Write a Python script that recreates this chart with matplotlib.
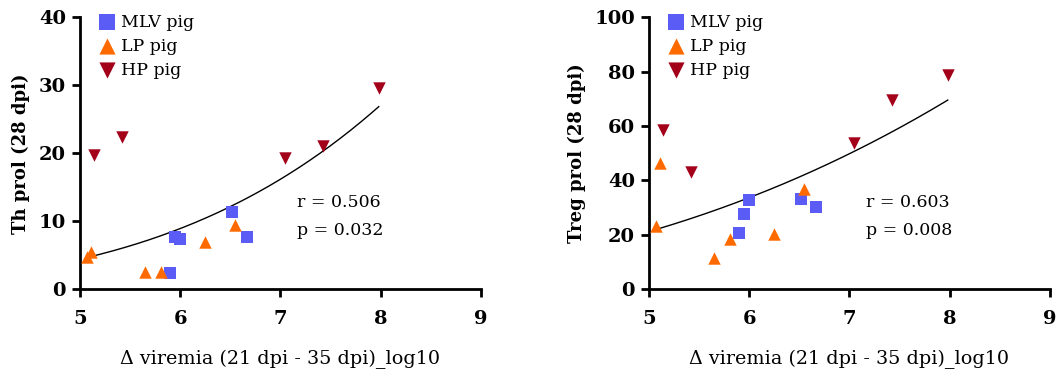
import numpy as np
import matplotlib
matplotlib.use("Agg")
import matplotlib.pyplot as plt

# x values (delta viremia, log10) per group, shared by both panels
mlv_x = [5.90, 5.95, 6.00, 6.52, 6.67]
lp_x = [5.07, 5.11, 5.65, 5.81, 6.25, 6.55]
hp_x = [5.14, 5.42, 7.05, 7.42, 7.98]

# left panel: Th prol
th_mlv = [2.4, 7.7, 7.4, 11.3, 7.6]
th_lp = [4.7, 5.5, 2.5, 2.5, 7.0, 9.5]
th_hp = [19.7, 22.4, 19.3, 21.1, 29.6]

# right panel: Treg prol
treg_mlv = [20.5, 27.6, 32.8, 33.0, 30.3]
treg_lp = [23.3, 46.5, 11.3, 18.6, 20.1, 37.0]
treg_hp = [58.5, 43.2, 53.6, 69.6, 78.8]

plt.rcParams['font.family'] = ['DejaVu Serif']


def power_fit(x, y):
    # y = a * x**k, least squares, grid over k
    best = None
    for k in np.linspace(0.0, 8.0, 8001):
        e = x ** k
        a = (y * e).sum() / (e * e).sum()
        err = ((y - a * e) ** 2).sum()
        if best is None or err < best[0]:
            best = (err, a, k)
    return best[1], best[2]


def panel(ax, ys, ylim, yticks, ylabel, r_txt, p_txt):
    ax.scatter(mlv_x, ys[0], marker='s', s=72, color='#5a5cf5', label='MLV pig', zorder=3, linewidths=0)
    ax.scatter(lp_x, ys[1], marker='^', s=80, color='#ff6a00', label='LP pig', zorder=3, linewidths=0)
    ax.scatter(hp_x, ys[2], marker='v', s=80, color='#a3001a', label='HP pig', zorder=3, linewidths=0)

    allx = np.array(mlv_x + lp_x + hp_x)
    ally = np.array(ys[0] + ys[1] + ys[2])
    a, k = power_fit(allx, ally)
    xx = np.linspace(allx.min(), allx.max(), 200)
    ax.plot(xx, a * xx ** k, color='black', lw=1)

    ax.set_xlim(5, 9)
    ax.set_ylim(*ylim)
    ax.set_xticks([5, 6, 7, 8, 9])
    ax.set_yticks(yticks)
    for s in ['top', 'right']:
        ax.spines[s].set_visible(False)
    for s in ['left', 'bottom']:
        ax.spines[s].set_linewidth(2)
    ax.tick_params(width=2, length=6, labelsize=14)
    ax.tick_params(axis='x', pad=9)
    ax.tick_params(axis='y', pad=4)
    for t in ax.get_xticklabels() + ax.get_yticklabels():
        t.set_fontweight('bold')
    ax.set_ylabel(ylabel, fontsize=13, fontweight='bold', labelpad=6)
    ax.set_xlabel('\u0394 viremia (21 dpi - 35 dpi)_log10', fontsize=13.8, labelpad=16)
    ax.text(0.54, 0.32, r_txt, transform=ax.transAxes, fontsize=12.5, va='center')
    ax.text(0.54, 0.215, p_txt, transform=ax.transAxes, fontsize=12.5, va='center')
    ax.legend(loc='upper left', bbox_to_anchor=(0.02, 1.045), frameon=False, fontsize=12.5,
              handletextpad=0.2, labelspacing=0.4, borderpad=0, handlelength=1.2, markerscale=1.3)


fig = plt.figure(figsize=(10.59, 3.72), dpi=100)
ax1 = fig.add_axes([0.0755, 0.223, 0.3787, 0.730])
ax2 = fig.add_axes([0.6128, 0.223, 0.3787, 0.730])

panel(ax1, [th_mlv, th_lp, th_hp], (0, 40), [0, 10, 20, 30, 40], 'Th prol (28 dpi)', 'r = 0.506', 'p = 0.032')
panel(ax2, [treg_mlv, treg_lp, treg_hp], (0, 100), [0, 20, 40, 60, 80, 100], 'Treg prol (28 dpi)', 'r = 0.603', 'p = 0.008')

fig.savefig('out.png', dpi=100)
